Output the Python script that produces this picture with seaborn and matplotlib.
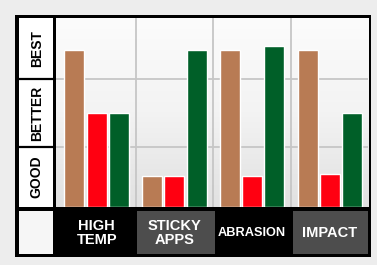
import numpy as np
import pandas as pd
import matplotlib
matplotlib.use("Agg")
import matplotlib.pyplot as plt
import seaborn as sns
from matplotlib.patches import Rectangle
from matplotlib import font_manager

# ---- data ----
categories = ["HIGH\nTEMP", "STICKY\nAPPS", "ABRASION", "IMPACT"]
series_names = ["Series A", "Series B", "Series C"]
brown_vals = [2.5, 0.5, 2.5, 2.5]
red_vals = [1.5, 0.5, 0.5, 0.53]
green_vals = [1.5, 2.5, 2.55, 1.5]
level_labels = ["GOOD", "BETTER", "BEST"]
level_bounds = [0.0, 0.96, 2.03, 3.0]

# ---- styles ----
bar_colors = ["#b87b54", "#ff0011", "#005f28"]
cell_colors = ["#000000", "#4d4d4d", "#000000", "#4d4d4d"]

sns.set_style("white")
names = {f.name for f in font_manager.fontManager.ttflist}
plt.rcParams["font.family"] = ["Liberation Sans", "DejaVu Sans"]
narrow = "Liberation Sans Narrow" in names

df = pd.DataFrame({
    "category": categories * 3,
    "series": np.repeat(series_names, len(categories)),
    "value": brown_vals + red_vals + green_vals,
})

W, H = 377, 265


def fr(x0, y0, x1, y1):
    return [x0 / W, 1 - y1 / H, (x1 - x0) / W, (y1 - y0) / H]


fig = plt.figure(figsize=(W / 100, H / 100), dpi=100, facecolor="#ededed")
fig.add_artist(Rectangle((15 / W, 1 - 257 / H), 356 / W, 242 / H,
                         transform=fig.transFigure, facecolor="black",
                         edgecolor="none", zorder=-5))

XLIM = (-0.53, 3.49)
YLIM = (0, 3)

# main bar axes
ax = fig.add_axes(fr(55.5, 18, 368, 207.3))
grad = np.linspace(0, 1, 100).reshape(-1, 1)
ax.imshow(grad, cmap=matplotlib.colors.LinearSegmentedColormap.from_list(
    "bg", ["#e1e1e1", "#f3f3f3", "#fcfcfc"]),
    extent=[XLIM[0], XLIM[1], YLIM[1], YLIM[0]], aspect="auto", zorder=0)
sns.barplot(data=df, x="category", y="value", hue="series", palette=bar_colors,
            width=0.86, gap=0.1, saturation=1, legend=False, ax=ax, zorder=3)
for b in level_bounds[1:-1]:
    ax.axhline(b, color="#c6c6c6", lw=1.3, zorder=1)
for xv in [0.5, 1.5, 2.5]:
    ax.axvline(xv, color="#c6c6c6", lw=1.3, zorder=1)
ax.set_xlim(*XLIM)
ax.set_ylim(*YLIM)
ax.set_xticks([])
ax.set_yticks([])
ax.set_xlabel("")
ax.set_ylabel("")
for s in ax.spines.values():
    s.set_visible(False)

# left level column
axl = fig.add_axes(fr(19, 18, 53, 207.3))
axl.set_facecolor("white")
axl.set_ylim(*YLIM)
axl.set_xlim(0, 1)
for b in level_bounds[1:-1]:
    axl.axhline(b, color="black", lw=1.6)
for i, lab in enumerate(level_labels):
    yc = (level_bounds[i] + level_bounds[i + 1]) / 2
    axl.text(0.52, yc, lab, rotation=90, ha="center", va="center",
             fontsize=10, fontweight="bold", color="black")
axl.set_xticks([])
axl.set_yticks([])
for s in axl.spines.values():
    s.set_visible(False)

# bottom-left empty cell
axbl = fig.add_axes(fr(19, 211, 53, 254))
axbl.set_facecolor("#f6f6f6")
axbl.set_xticks([])
axbl.set_yticks([])
for s in axbl.spines.values():
    s.set_visible(False)

# bottom category row
axb = fig.add_axes(fr(55.5, 211, 368, 254))
axb.set_facecolor("black")
axb.set_xlim(*XLIM)
axb.set_ylim(0, 1)
for i, cat in enumerate(categories):
    axb.add_patch(Rectangle((i - 0.5 + 0.02, 0), 1, 1, facecolor=cell_colors[i],
                            edgecolor="none"))
    kw = dict(fontsize=10.5, fontweight="bold")
    if cat == "ABRASION":
        if narrow:
            kw = dict(fontsize=10.5, fontweight="bold",
                      family=["Liberation Sans Narrow", "Liberation Sans"])
        else:
            kw = dict(fontsize=9.2, fontweight="bold")
    axb.text(i, 0.48, cat, ha="center", va="center", color="white",
             linespacing=0.98, **kw)
axb.set_xticks([])
axb.set_yticks([])
for s in axb.spines.values():
    s.set_visible(False)

fig.savefig("out.png", dpi=100, facecolor=fig.get_facecolor())
